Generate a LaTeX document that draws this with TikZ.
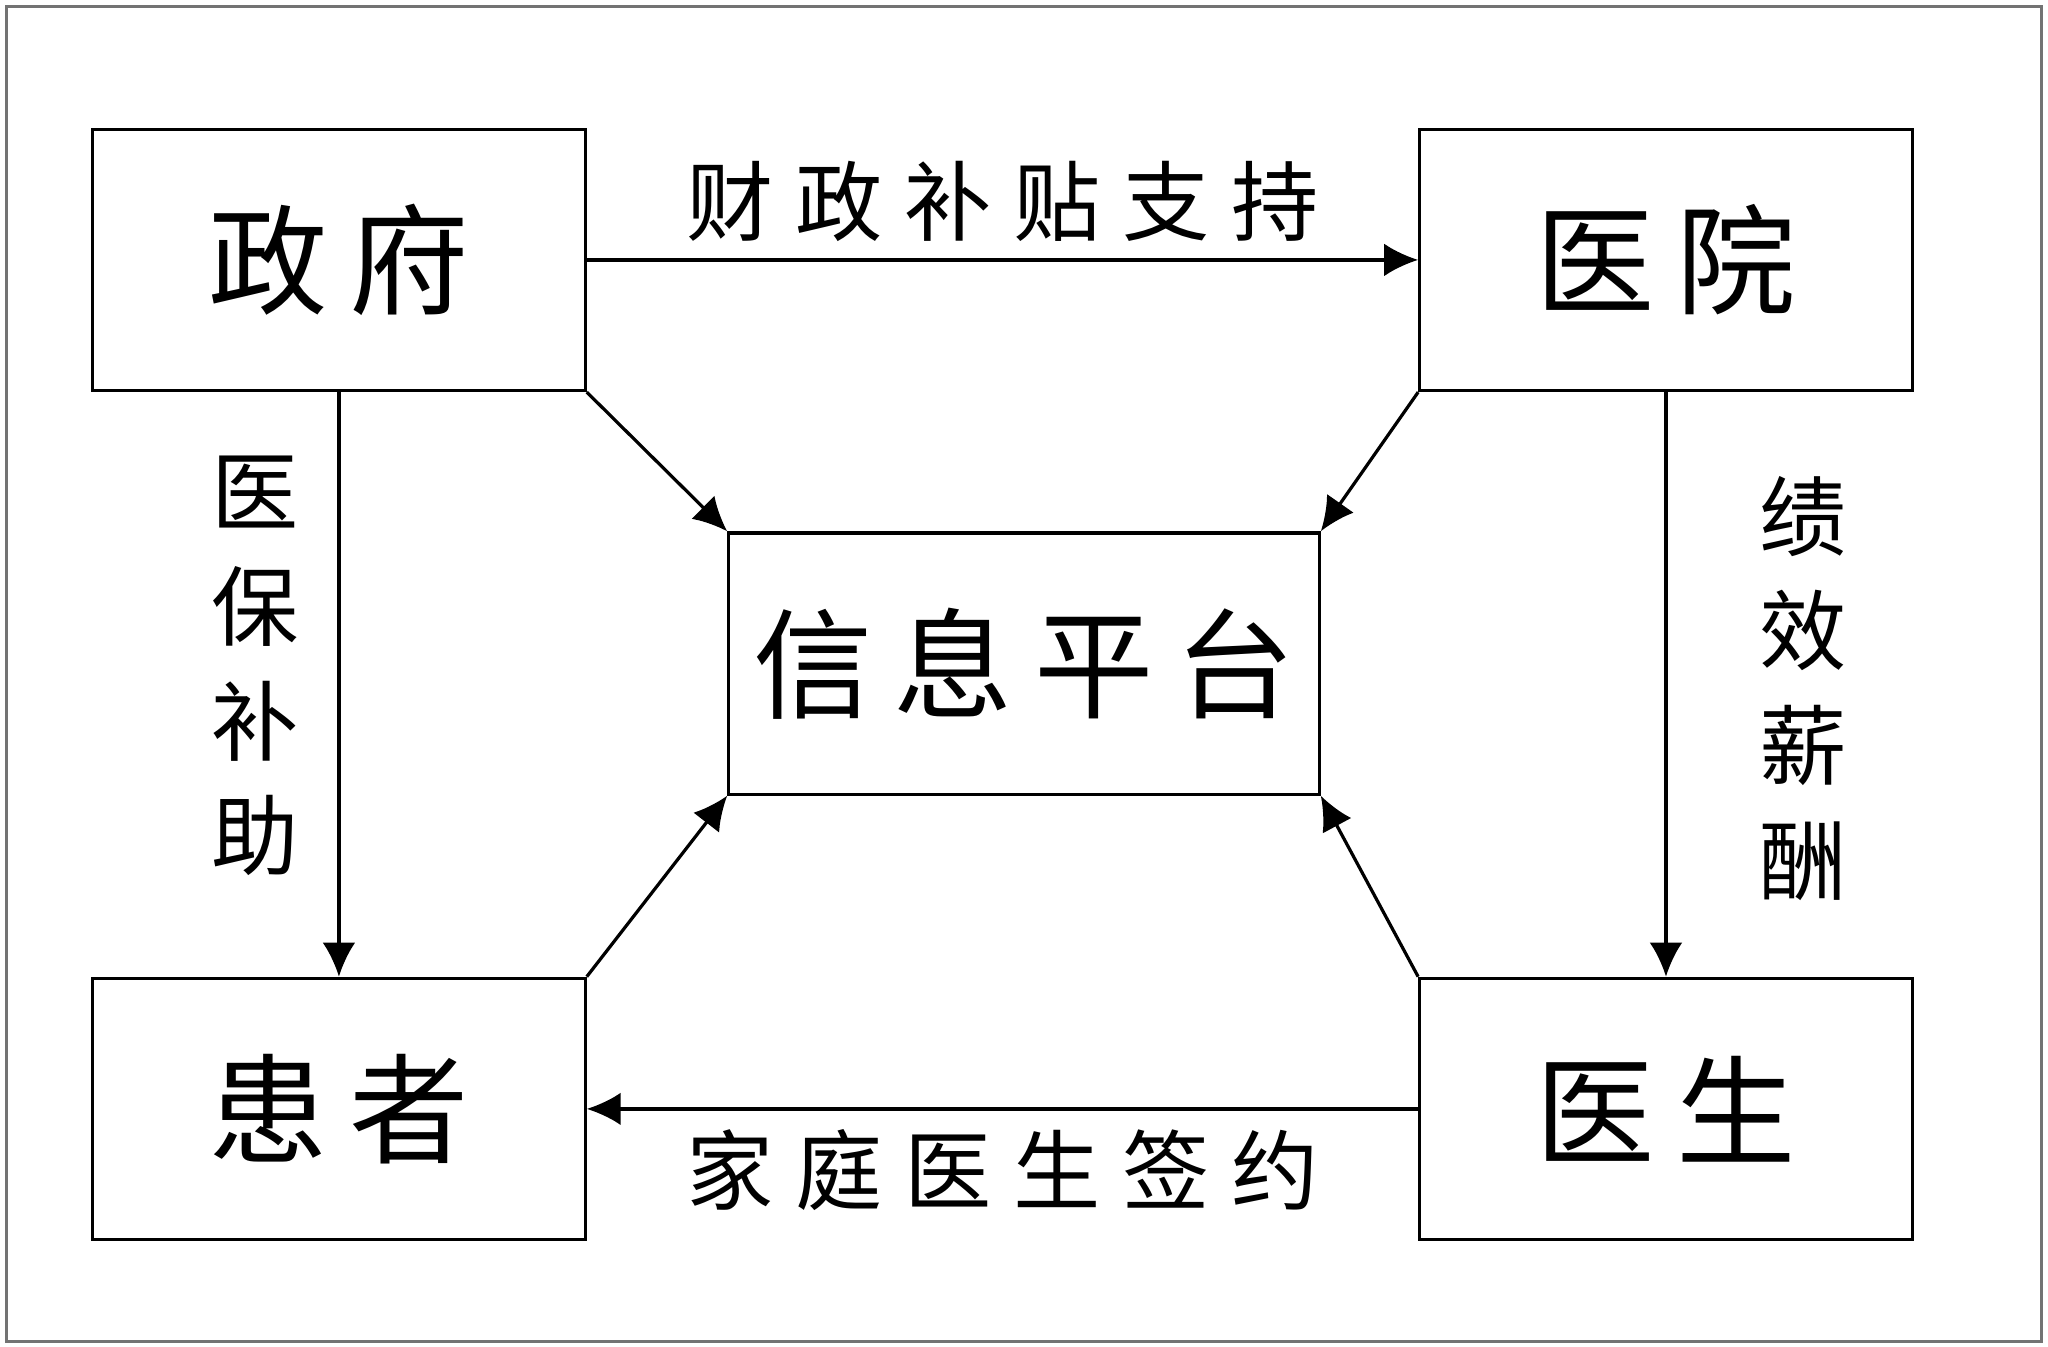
\documentclass[tikz,border=0pt]{standalone}
\usepackage{fontspec}
\setmainfont{Noto Sans CJK SC}
\newfontfamily\boxfont[LetterSpace=18]{Noto Sans CJK SC}
\newfontfamily\flowfont[LetterSpace=25]{Noto Sans CJK SC}
\usetikzlibrary{positioning, calc, arrows.meta}

\begin{document}
\begin{tikzpicture}[
        party/.style={draw, rectangle, line width=0.7pt, minimum width=3.77cm, minimum height=2cm, inner sep=0pt, text centered, font={\boxfont\fontsize{26pt}{30pt}\selectfont}},
        platform/.style={party, minimum width=4.52cm},
        flow/.style={line width=0.7pt, -{Latex[length=2.6mm,width=2.5mm]}},
        hlabel/.style={midway, inner sep=0pt, font={\flowfont\fontsize{19pt}{22pt}\selectfont}},
        vlabel/.style={midway, inner sep=0pt, align=center, font={\fontsize{19pt}{25pt}\selectfont}}
    ]
    % frame
    \useasboundingbox (-2.595,1.99) rectangle (13.085,-8.32);
    \draw[black!55, line width=0.5pt] (-2.545,1.94) rectangle (13.035,-8.28);

    \node (Government) at (0,0) [party]{政府};
    \node (Hospital) at ($(Government) + (10.16,0)$) [party]{医院};
    \node (Patient) at ($(Government) + (0,-6.5)$) [party]{患者};
    \node (Doctor) at ($(Hospital) + (0,-6.5)$) [party]{医生};
    \node (InfoPlatform) at ($(Government) + (5.245,-3.09)$) [platform]{信息平台};

    \draw[flow] (Government.east) -- node[hlabel, yshift=0.45cm] (SubsidyText) {财政补贴支持} (Hospital.west);
    \draw[flow] (Doctor.west) -- node[hlabel, yshift=-0.47cm] (ContractText) {家庭医生签约} (Patient.east);
    \draw[flow] (Government.south) -- node[vlabel, xshift=-0.645cm, yshift=0.14cm] (InsuranceText) {医\\保\\补\\助} (Patient.north);
    \draw[flow] (Hospital.south) -- node[vlabel, xshift=1.05cm, yshift=-0.03cm] (SalaryText) {绩\\效\\薪\\酬} (Doctor.north);

    % links to the platform
    \draw[flow] (Government.south east) -- (InfoPlatform.north west);
    \draw[flow] (Hospital.south west) -- (InfoPlatform.north east);
    \draw[flow] (Patient.north east) -- (InfoPlatform.south west);
    \draw[flow] (Doctor.north west) -- (InfoPlatform.south east);
\end{tikzpicture}
\end{document}
